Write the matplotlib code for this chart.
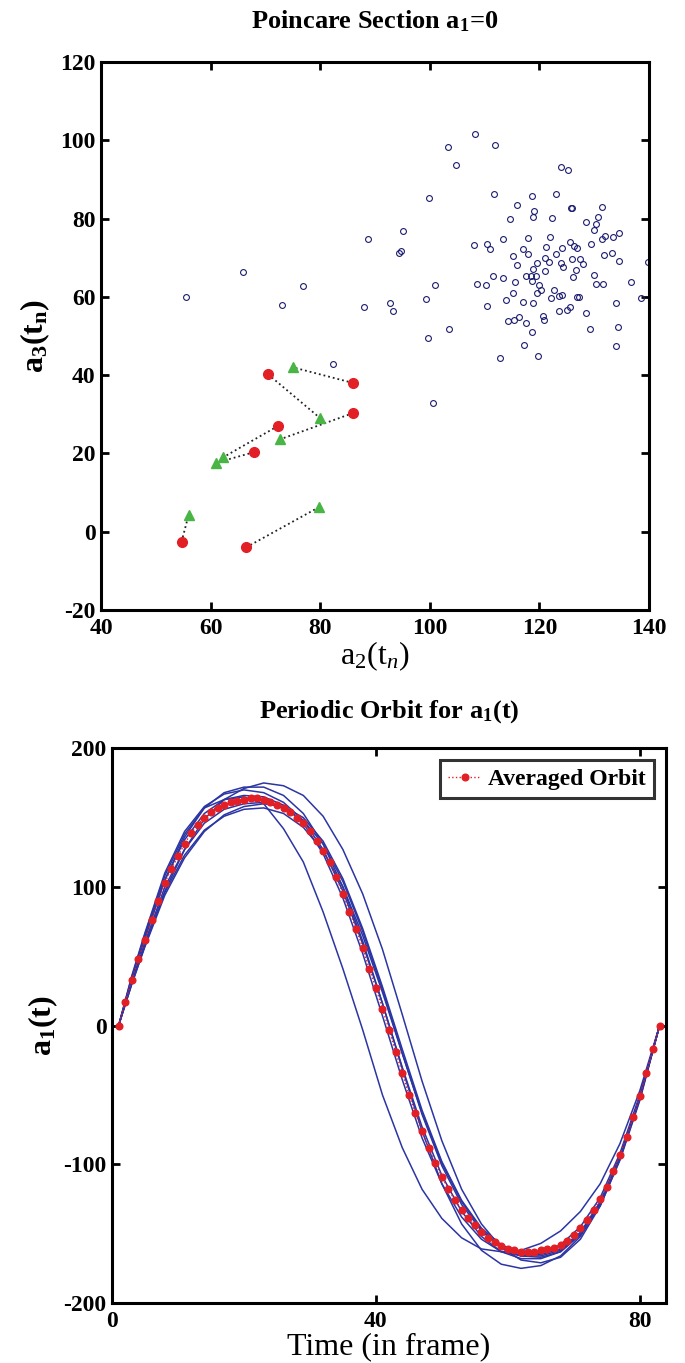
import numpy as np
import matplotlib.pyplot as plt

plt.rcParams['font.family'] = ['Liberation Serif', 'DejaVu Serif']
plt.rcParams['mathtext.fontset'] = 'custom'
plt.rcParams['mathtext.rm'] = 'Liberation Serif'
plt.rcParams['mathtext.bf'] = 'Liberation Serif:bold'
plt.rcParams['mathtext.it'] = 'Liberation Serif:italic'
plt.rcParams['axes.unicode_minus'] = False

# ---- Poincare section data (a2, a3) ----
sec_a2 = [108.2, 103.4, 111.9, 104.7, 124.0, 125.3, 99.9, 111.7, 118.6, 123.1,
          115.9, 125.7, 125.9, 131.5, 119.0, 118.9, 114.7, 122.3, 128.6, 130.7,
          130.4, 130.0, 95.2, 88.7, 113.4, 118.0, 122.0, 134.6, 133.5, 132.0,
          131.5, 108.1, 110.4, 110.9, 117.1, 121.3, 124.2, 125.6, 126.3, 126.8,
          129.5, 118.0, 115.1, 123.1, 126.0, 127.5, 131.8, 133.3, 134.6, 94.7,
          94.4, 121.0, 121.8, 116.0, 119.5, 118.9, 124.0, 124.4, 127.9, 126.7,
          121.1, 139.8, 118.5, 117.5, 119.3, 118.6, 126.1, 130.0, 130.3, 131.7,
          136.8, 111.6, 113.4, 115.6, 108.7, 110.3, 120.0, 120.3, 119.6, 115.2,
          122.7, 123.6, 124.1, 126.9, 127.3, 122.1, 114.0, 117.1, 118.9, 134.0,
          138.5, 110.5, 123.6, 125.0, 125.5, 128.6, 114.3, 115.4, 116.2, 117.5,
          120.7, 120.9, 118.6, 129.2, 134.3, 117.2, 134.0, 112.8, 119.7, 103.5,
          99.7, 99.4, 101.0, 92.8, 93.3, 88.0, 76.8, 73.1, 100.5, 82.4,
          65.9, 55.5]
sec_a3 = [101.5, 98.3, 98.9, 93.6, 93.2, 92.4, 85.2, 86.4, 85.8, 86.4,
          83.5, 82.6, 82.6, 82.9, 81.9, 80.5, 80.0, 80.1, 79.1, 80.5,
          78.6, 77.1, 76.9, 74.7, 74.7, 75.0, 75.2, 76.2, 75.4, 75.5,
          74.8, 73.2, 73.4, 72.2, 72.1, 72.7, 72.5, 74.1, 73.0, 72.6,
          73.4, 71.0, 70.4, 70.9, 69.6, 69.7, 70.6, 71.1, 69.2, 71.8,
          71.1, 70.0, 69.0, 68.1, 68.6, 67.0, 68.6, 67.5, 68.4, 66.9,
          66.5, 68.9, 65.4, 65.2, 65.4, 64.0, 65.0, 65.6, 63.3, 63.3,
          63.9, 65.2, 64.9, 63.9, 63.4, 62.9, 63.0, 61.7, 60.9, 61.1,
          61.7, 60.2, 60.4, 60.0, 59.9, 59.8, 59.2, 58.6, 58.3, 58.3,
          59.7, 57.7, 56.4, 56.6, 57.5, 55.8, 53.9, 54.1, 54.8, 53.2,
          55.2, 54.2, 50.9, 51.8, 52.4, 47.6, 47.4, 44.3, 44.8, 51.8,
          49.6, 59.4, 63.0, 58.3, 56.3, 57.3, 62.8, 58.0, 33.0, 42.9,
          66.4, 60.0]

# paired points joined by dotted lines
red_a2 = [86.0, 70.5, 86.0, 72.3, 67.9, 54.7, 66.5]
red_a3 = [38.0, 40.2, 30.3, 27.0, 20.3, -2.6, -4.0]
green_a2 = [75.0, 80.0, 72.7, 62.3, 61.0, 56.0, 79.7]
green_a3 = [42.0, 29.0, 23.6, 19.0, 17.6, 4.3, 6.2]

# ---- periodic orbit data ----
frames = list(range(1, 84))
avg_orbit = [0, 17, 33, 48, 62, 76, 90, 103, 113, 122,
             131, 139, 145, 150, 154, 157, 159, 161, 162, 163,
             164, 164, 163, 161, 159, 157, 154, 150, 146, 140,
             133, 126, 118, 107, 95, 82, 70, 56, 41, 27,
             12, -3, -19, -34, -50, -63, -76, -88, -99, -109,
             -118, -126, -133, -139, -144, -149, -153, -156, -159, -161,
             -162, -163, -163, -163, -162, -161, -160, -158, -155, -151,
             -146, -140, -133, -125, -116, -105, -93, -80, -66, -51,
             -34, -17, 0]

orbit_t = [1, 3, 5, 8, 11, 14, 17, 20, 23, 26, 29, 32, 35, 38, 41,
           44, 47, 50, 53, 56, 59, 62, 65, 68, 71, 74, 77, 80, 83]
orbit_1 = [0, 35, 66, 108, 138, 157, 163, 165, 160, 142, 118, 82, 41, -3, -50,
           -88, -118, -139, -153, -161, -163, -162, -157, -148, -134, -114, -85, -47, 0]
orbit_2 = [0, 30, 58, 97, 127, 149, 163, 171, 175, 173, 166, 151, 127, 95, 55,
           8, -40, -83, -118, -143, -160, -169, -171, -167, -154, -130, -96, -52, 0]
orbit_3 = [0, 36, 67, 110, 140, 158, 167, 170, 168, 161, 148, 127, 97, 59, 16,
           -30, -73, -108, -134, -152, -163, -168, -168, -163, -150, -128, -95, -52, 0]
orbit_4 = [0, 31, 58, 96, 123, 141, 151, 156, 157, 153, 143, 126, 100, 65, 24,
           -20, -63, -99, -127, -147, -160, -166, -167, -163, -151, -130, -97, -54, 0]
orbit_5 = [0, 32, 60, 100, 127, 146, 156, 160, 161, 157, 148, 131, 104, 68, 26,
           -20, -64, -101, -129, -148, -160, -166, -166, -162, -150, -129, -96, -53, 0]
orbit_6 = [0, 34, 64, 105, 134, 153, 163, 166, 165, 159, 146, 124, 92, 52, 7,
           -39, -81, -114, -138, -154, -163, -166, -164, -158, -145, -124, -92, -50, 0]
orbit_7 = [0, 30, 57, 94, 121, 140, 152, 158, 160, 158, 150, 133, 106, 70, 28,
           -17, -61, -98, -126, -146, -158, -164, -165, -161, -149, -127, -94, -52, 0]
orbit_8 = [0, 33, 63, 105, 136, 157, 168, 172, 172, 166, 153, 131, 100, 61, 16,
           -31, -76, -114, -143, -162, -172, -175, -173, -166, -152, -129, -95, -52, 0]
orbits = [orbit_1, orbit_2, orbit_3, orbit_4, orbit_5, orbit_6, orbit_7, orbit_8]

fig = plt.figure(figsize=(6.85, 13.63), dpi=100)
ax1 = fig.add_axes([0.1474, 0.5525, 0.800, 0.402])
ax2 = fig.add_axes([0.1635, 0.044, 0.809, 0.407])

# top: poincare section
ax1.plot(sec_a2, sec_a3, 'o', mfc='none', mec='#1c1c70', ms=4.2, mew=0.8, ls='none')
for i in range(len(red_a2)):
    ax1.plot([red_a2[i], green_a2[i]], [red_a3[i], green_a3[i]], ':', color='#222222', lw=1.3)
ax1.plot(red_a2, red_a3, 'o', color='#e31f26', ms=7, ls='none')
ax1.plot(green_a2, green_a3, '^', color='#48b544', ms=7.5, ls='none')
ax1.set_xlim(40, 140)
ax1.set_ylim(-20, 120)
ax1.set_xticks([40, 60, 80, 100, 120, 140])
ax1.set_yticks([-20, 0, 20, 40, 60, 80, 100, 120])
ax1.set_title(r'Poincare Section a$_\mathbf{1}$=0', fontsize=19, fontweight='bold', pad=24)
ax1.set_xlabel(r'a$_2$(t$_n$)', fontsize=23, labelpad=0)
ax1.set_ylabel(r'a$_\mathbf{3}$(t$_\mathbf{n}$)', fontsize=23, fontweight='bold', labelpad=6)

# bottom: periodic orbit
for orb in orbits:
    ax2.plot(orbit_t, orb, color='#2b35a3', lw=1.1)
ax2.plot(frames, avg_orbit, ':', color='#e31f26', marker='o', ms=4.8, lw=1.0,
         label='Averaged Orbit')
ax2.set_xlim(0, 84)
ax2.set_ylim(-200, 200)
ax2.set_xticks([0, 40, 80])
ax2.set_yticks([-200, -100, 0, 100, 200])
ax2.set_title(r'Periodic Orbit for a$_\mathbf{1}$(t)', fontsize=19, fontweight='bold', pad=22)
ax2.set_xlabel('Time (in frame)', fontsize=23, labelpad=0)
ax2.set_ylabel(r'a$_\mathbf{1}$(t)', fontsize=23, fontweight='bold', labelpad=2)
leg = ax2.legend(loc='upper right', fancybox=False, handlelength=1.4, borderpad=0.35,
                 handletextpad=0.3, borderaxespad=0.5,
                 prop={'family': ['Liberation Serif'], 'weight': 'bold', 'size': 17})
leg.get_frame().set_edgecolor('black')
leg.get_frame().set_linewidth(2.2)

for ax in (ax1, ax2):
    for s in ax.spines.values():
        s.set_linewidth(2.2)
    ax.tick_params(direction='in', top=True, right=True, length=6, width=2,
                   labelsize=17)
    ax.tick_params(axis='x', pad=6)
    ax.tick_params(axis='y', pad=4)
    for lab in ax.get_xticklabels() + ax.get_yticklabels():
        lab.set_fontweight('bold')

fig.savefig('out.png', dpi=100)
